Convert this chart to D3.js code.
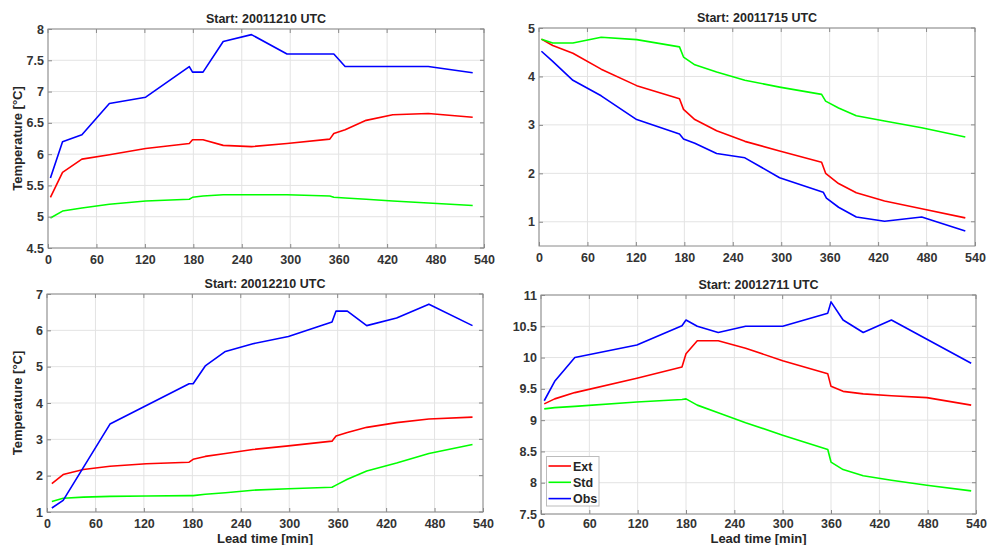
<!DOCTYPE html>
<html>
<head>
<meta charset="utf-8">
<script src="https://cdn.jsdelivr.net/npm/d3@7"></script>
<style>
  body { margin: 0; background: #fff; }
  svg text { font-family: "Liberation Sans", Arial, sans-serif; font-weight: bold; fill: #262626; }
</style>
</head>
<body>
<svg id="chart" width="990" height="545"></svg>
<script>
// series names / colours
const seriesNames = ['Ext', 'Std', 'Obs'];
const seriesColors = ['#ff0000', '#00ff00', '#0000ff'];
const xTicks = [0, 60, 120, 180, 240, 300, 360, 420, 480, 540];

// panel 1 : 20011210
const p1Time = [3, 18, 42, 76, 121, 175, 179, 192, 217, 252, 296, 349, 354, 368, 394, 427, 471, 526];
const p1Ext = [5.31, 5.71, 5.92, 5.99, 6.09, 6.17, 6.23, 6.23, 6.14, 6.12, 6.17, 6.24, 6.33, 6.39, 6.54, 6.63, 6.65, 6.59];
const p1Std = [4.98, 5.09, 5.14, 5.2, 5.25, 5.28, 5.31, 5.33, 5.35, 5.35, 5.35, 5.33, 5.31, 5.3, 5.28, 5.25, 5.22, 5.18];
const p1ObsTime = [3, 18, 42, 76, 121, 175, 179, 192, 217, 252, 296, 354, 368, 471, 526];
const p1Obs = [5.62, 6.2, 6.31, 6.81, 6.91, 7.4, 7.31, 7.31, 7.8, 7.91, 7.6, 7.6, 7.4, 7.4, 7.3];

// panel 2 : 20011715
const p2Time = [3, 17, 42, 77, 121, 174, 179, 193, 220, 255, 298, 350, 355, 371, 393, 428, 474, 528];
const p2Ext = [4.77, 4.64, 4.48, 4.15, 3.81, 3.54, 3.32, 3.11, 2.88, 2.66, 2.46, 2.23, 2.0, 1.79, 1.6, 1.43, 1.27, 1.08];
const p2Std = [4.77, 4.69, 4.69, 4.81, 4.76, 4.61, 4.4, 4.24, 4.09, 3.92, 3.78, 3.63, 3.49, 3.35, 3.19, 3.08, 2.94, 2.75];
const p2ObsTime = [3, 17, 42, 77, 121, 174, 179, 193, 220, 255, 298, 352, 356, 371, 393, 428, 474, 528];
const p2Obs = [4.52, 4.31, 3.92, 3.6, 3.11, 2.81, 2.71, 2.62, 2.41, 2.32, 1.91, 1.61, 1.49, 1.3, 1.1, 1.01, 1.1, 0.81];

// panel 3 : 20012210
const p3Time = [6, 20, 45, 78, 123, 176, 181, 196, 221, 255, 299, 353, 358, 372, 396, 433, 473, 527];
const p3Ext = [1.78, 2.03, 2.17, 2.26, 2.33, 2.37, 2.45, 2.53, 2.61, 2.72, 2.82, 2.95, 3.09, 3.19, 3.33, 3.46, 3.56, 3.61];
const p3Std = [1.29, 1.38, 1.41, 1.43, 1.44, 1.45, 1.45, 1.49, 1.53, 1.6, 1.64, 1.68, 1.74, 1.9, 2.13, 2.35, 2.61, 2.86];
const p3ObsTime = [6, 20, 78, 176, 181, 196, 221, 255, 299, 353, 358, 372, 396, 433, 473, 527];
const p3Obs = [1.11, 1.32, 3.42, 4.53, 4.53, 5.02, 5.42, 5.63, 5.83, 6.23, 6.53, 6.53, 6.13, 6.34, 6.72, 6.13];

// panel 4 : 20012711
const p4Time = [4, 17, 42, 119, 175, 180, 194, 220, 254, 300, 356, 360, 375, 400, 435, 479, 534];
const p4Ext = [9.26, 9.34, 9.44, 9.67, 9.85, 10.06, 10.27, 10.27, 10.15, 9.95, 9.74, 9.54, 9.46, 9.42, 9.39, 9.36, 9.24];
const p4Std = [9.18, 9.2, 9.22, 9.29, 9.33, 9.34, 9.24, 9.12, 8.96, 8.76, 8.53, 8.33, 8.21, 8.11, 8.04, 7.96, 7.87];
const p4ObsTime = [4, 17, 42, 119, 175, 180, 194, 220, 254, 300, 356, 360, 375, 400, 435, 534];
const p4Obs = [9.31, 9.62, 10.0, 10.2, 10.51, 10.6, 10.5, 10.4, 10.5, 10.5, 10.71, 10.89, 10.6, 10.4, 10.6, 9.91];

const panels = [
	{title: 'Start: 20011210 UTC', box: [48, 484, 29, 248], yDomain: [4.5, 8], yTicks: [4.5, 5, 5.5, 6, 6.5, 7, 7.5, 8],
		series: [[p1Time, p1Ext], [p1Time, p1Std], [p1ObsTime, p1Obs]], yLabel: true, xLabel: 0, pad: 7},
	{title: 'Start: 20011715 UTC', box: [539, 975, 28, 246], yDomain: [0.5, 5], yTicks: [1, 2, 3, 4, 5],
		series: [[p2Time, p2Ext], [p2Time, p2Std], [p2ObsTime, p2Obs]], yLabel: false, xLabel: 0, pad: 7},
	{title: 'Start: 20012210 UTC', box: [47, 483, 294, 512], yDomain: [1, 7], yTicks: [1, 2, 3, 4, 5, 6, 7],
		series: [[p3Time, p3Ext], [p3Time, p3Std], [p3ObsTime, p3Obs]], yLabel: true, xLabel: 542.5, pad: 7},
	{title: 'Start: 20012711 UTC', box: [541, 976, 295, 514], yDomain: [7.5, 11], yTicks: [7.5, 8, 8.5, 9, 9.5, 10, 10.5, 11],
		series: [[p4Time, p4Ext], [p4Time, p4Std], [p4ObsTime, p4Obs]], yLabel: false, xLabel: 542.5, pad: 5, legend: true}
];

const svg = d3.select('#chart');

panels.forEach(p => {
	let [left, right, top, bottom] = p.box;
	let x = d3.scaleLinear().domain([0, 540]).range([left, right]);
	let y = d3.scaleLinear().domain(p.yDomain).range([bottom, top]);
	let g = svg.append('g');

	g.append('rect')
		.attr('x', left).attr('y', top)
		.attr('width', right - left).attr('height', bottom - top)
		.style('fill', '#fff');

	// grid
	g.selectAll('.vgrid').data(xTicks).enter()
		.append('line')
		.attr('x1', d => x(d)).attr('x2', d => x(d))
		.attr('y1', top).attr('y2', bottom)
		.style('stroke', '#e3e3e3').style('stroke-width', 1);
	g.selectAll('.hgrid').data(p.yTicks).enter()
		.append('line')
		.attr('x1', left).attr('x2', right)
		.attr('y1', d => y(d)).attr('y2', d => y(d))
		.style('stroke', '#e3e3e3').style('stroke-width', 1);

	// series
	let line = d3.line().x(d => x(d[0])).y(d => y(d[1]));
	p.series.forEach((s, i) => {
		let pts = s[0].map((t, k) => [t, s[1][k]]);
		g.append('path')
			.datum(pts)
			.attr('d', line)
			.style('fill', 'none')
			.style('stroke', seriesColors[i])
			.style('stroke-width', 1.6)
			.style('stroke-linejoin', 'round');
	});

	// axes (MATLAB style: ticks pointing inward)
	let xAxis = d3.axisBottom(x).tickValues(xTicks).tickSizeInner(-4).tickSizeOuter(0).tickPadding(p.pad);
	let yAxis = d3.axisLeft(y).tickValues(p.yTicks).tickSizeInner(-4).tickSizeOuter(0).tickPadding(4)
		.tickFormat(d3.format('~g'));

	let xa = g.append('g').attr('transform', `translate(0,${bottom})`).call(xAxis);
	let ya = g.append('g').attr('transform', `translate(${left},0)`).call(yAxis);
	[xa, ya].forEach(a => {
		a.select('.domain').remove();
		a.selectAll('line').style('stroke', '#8a8a8a');
		a.selectAll('text').style('font-size', '12.5px').style('font-family', '"Liberation Sans", Arial, sans-serif')
			.style('font-weight', 'bold').style('fill', '#333');
	});
	// top ticks and right ticks
	g.selectAll('.tt').data(xTicks).enter()
		.append('line')
		.attr('x1', d => x(d)).attr('x2', d => x(d))
		.attr('y1', top).attr('y2', top + 4)
		.style('stroke', '#8a8a8a');
	g.selectAll('.rt').data(p.yTicks).enter()
		.append('line')
		.attr('x1', right - 4).attr('x2', right)
		.attr('y1', d => y(d)).attr('y2', d => y(d))
		.style('stroke', '#8a8a8a');

	g.append('rect')
		.attr('x', left).attr('y', top)
		.attr('width', right - left).attr('height', bottom - top)
		.style('fill', 'none').style('stroke', '#8a8a8a').style('stroke-width', 1);

	// title
	g.append('text')
		.attr('x', (left + right) / 2).attr('y', top - 6)
		.attr('text-anchor', 'middle')
		.style('font-size', '12.5px')
		.text(p.title);

	if(p.yLabel)
	{
		g.append('text')
			.attr('transform', `translate(22,${(top + bottom) / 2}) rotate(-90)`)
			.attr('text-anchor', 'middle')
			.style('font-size', '13px')
			.text('Temperature [°C]');
	}
	if(p.xLabel)
	{
		g.append('text')
			.attr('x', (left + right) / 2).attr('y', p.xLabel)
			.attr('text-anchor', 'middle')
			.style('font-size', '13px')
			.text('Lead time [min]');
	}

	if(p.legend)
	{
		let lg = g.append('g');
		lg.append('rect')
			.attr('x', 546.5).attr('y', 456.5)
			.attr('width', 52.5).attr('height', 49.5)
			.style('fill', '#fff').style('stroke', '#bcbcbc');
		seriesNames.forEach((n, i) => {
			let ly = 466 + i * 16.3;
			lg.append('line')
				.attr('x1', 548.5).attr('x2', 571)
				.attr('y1', ly).attr('y2', ly)
				.style('stroke', seriesColors[i]).style('stroke-width', 1.6);
			lg.append('text')
				.attr('x', 573).attr('y', ly + 4.5)
				.style('font-size', '12.5px')
				.text(n);
		});
	}
});
</script>
</body>
</html>
